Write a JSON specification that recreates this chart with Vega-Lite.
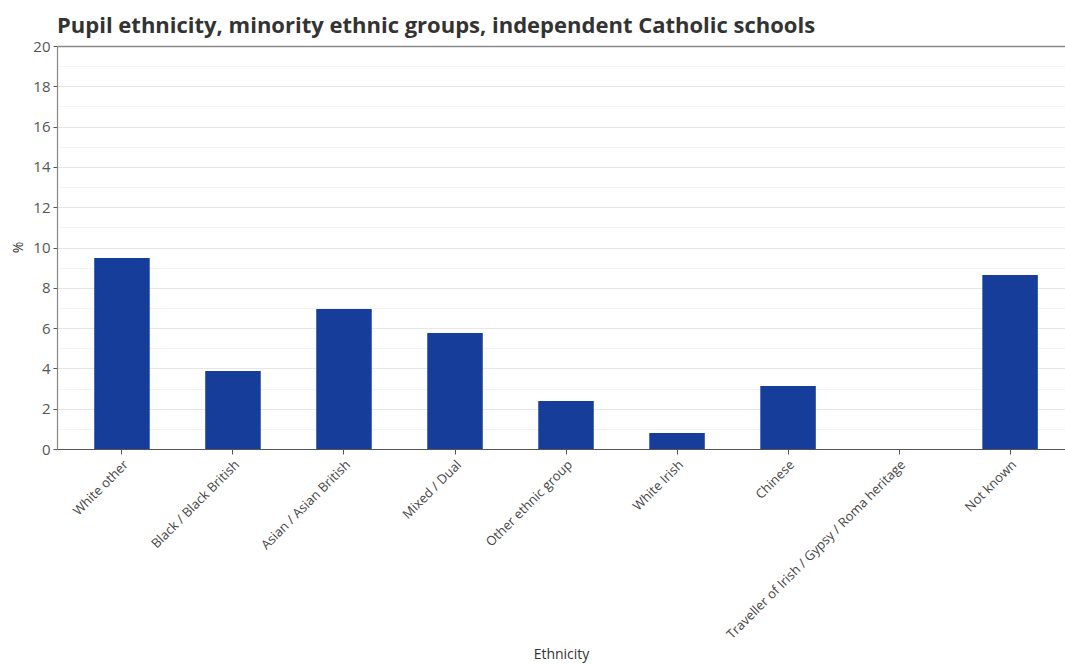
{
  "$schema": "https://vega.github.io/schema/vega-lite/v6.json",
  "width": 1008,
  "height": 403,
  "autosize": {"type": "none"},
  "padding": {"left": 57, "top": 46, "right": 0, "bottom": 215},
  "background": "white",
  "title": {
    "text": "Pupil ethnicity, minority ethnic groups, independent Catholic schools",
    "anchor": "start",
    "frame": "group",
    "font": "Open Sans",
    "fontSize": 22,
    "fontWeight": "bold",
    "color": "#333333",
    "offset": 1
  },
  "data": {
    "values": [
      {"Ethnicity": "White other", "pct": 9.48},
      {"Ethnicity": "Black / Black British", "pct": 3.87},
      {"Ethnicity": "Asian / Asian British", "pct": 6.95},
      {"Ethnicity": "Mixed / Dual", "pct": 5.76},
      {"Ethnicity": "Other ethnic group", "pct": 2.38},
      {"Ethnicity": "White Irish", "pct": 0.79},
      {"Ethnicity": "Chinese", "pct": 3.13},
      {"Ethnicity": "Traveller of Irish / Gypsy / Roma heritage", "pct": 0},
      {"Ethnicity": "Not known", "pct": 8.64}
    ]
  },
  "mark": {"type": "bar", "color": "#153d99"},
  "encoding": {
    "x": {
      "field": "Ethnicity",
      "type": "nominal",
      "sort": null,
      "scale": {"paddingInner": 0.5, "paddingOuter": 0.29, "align": 0.578},
      "axis": {
        "title": "Ethnicity",
        "titleFont": "Open Sans",
        "titleFontSize": 14,
        "titleFontWeight": "normal",
        "titleColor": "#333333",
        "titleY": 209,
        "titleBaseline": "alphabetic",
        "labelAngle": -45,
        "labelFont": "Open Sans",
        "labelFontSize": 13,
        "labelColor": "#444444",
        "labelLimit": 400,
        "labelPadding": 4,
        "domainColor": "#555555",
        "domainWidth": 1.2,
        "tickColor": "#555555",
        "tickSize": 5,
        "grid": false
      }
    },
    "y": {
      "field": "pct",
      "type": "quantitative",
      "scale": {"domain": [0, 20], "nice": false},
      "axis": {
        "title": "%",
        "titleFont": "Open Sans",
        "titleFontSize": 14,
        "titleFontWeight": "normal",
        "titleColor": "#333333",
        "titleX": -39,
        "titleY": 201,
        "titleBaseline": "middle",
        "values": [0,1,2,3,4,5,6,7,8,9,10,11,12,13,14,15,16,17,18,19,20],
        "labelExpr": "datum.value % 2 == 0 ? datum.label : ''",
        "labelFont": "Open Sans",
        "labelFontSize": 15,
        "labelColor": "#555555",
        "labelPadding": 3,
        "domainColor": "#888888",
        "domainWidth": 1.2,
        "tickColor": "#555555",
        "tickSize": 4,
        "tickOpacity": {"expr": "datum.value % 2 == 0 ? 1 : 0"},
        "grid": true,
        "gridColor": {"expr": "datum.value == 20 ? '#888888' : (datum.value % 2 == 0 ? '#e6e6e6' : '#f3f3f3')"},
        "gridWidth": {"expr": "datum.value == 20 ? 1.5 : 1"}
      }
    }
  },
  "config": {"view": {"stroke": null}}
}
